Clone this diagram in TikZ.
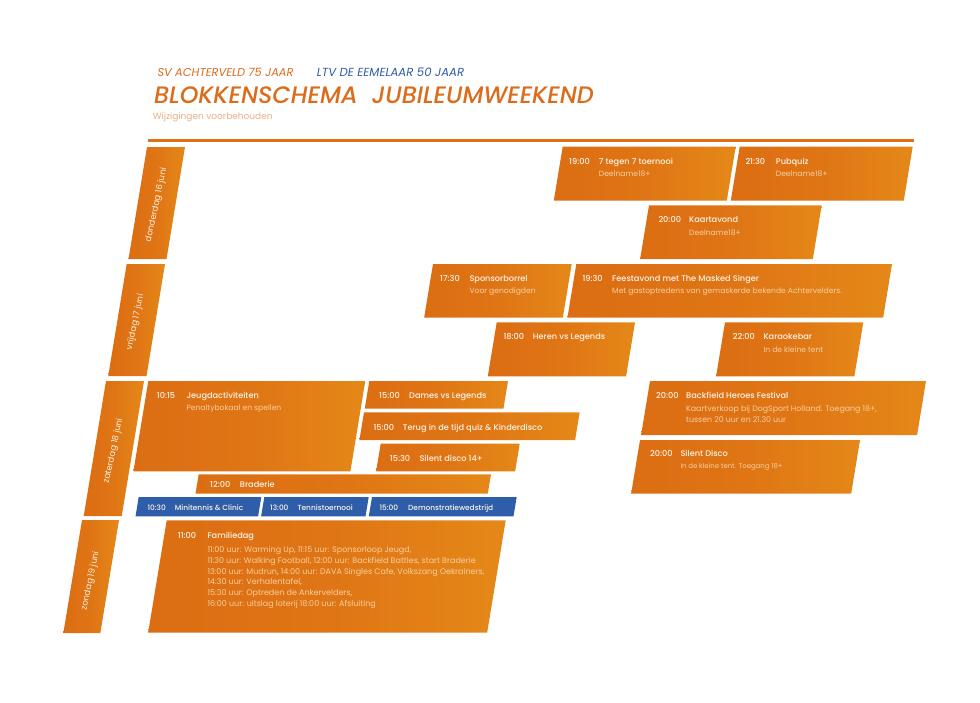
\documentclass[tikz,border=0pt]{standalone}
\usepackage{fontspec}
\setmainfont{Poppins}
\newfontfamily\zwaarder{Poppins Medium}
\definecolor{oranjeL}{HTML}{DC6D13}
\definecolor{oranjeR}{HTML}{E58818}
\definecolor{koporanje}{HTML}{DB6C1C}
\definecolor{kopblauw}{HTML}{2F5CA6}
\definecolor{blokblauw}{HTML}{2E5EA9}
\definecolor{zacht}{HTML}{F7CFA0}
\definecolor{wit}{HTML}{FDF3E6}
\tikzset{
  oranjeblok/.style={left color=oranjeL,right color=oranjeR,middle color=oranjeL!70!oranjeR,shading angle=90},
  tijdtekst/.style={anchor=base west,inner sep=0pt,text=wit,font=\zwaarder\fontsize{8.2}{10}\selectfont},
  subtekst/.style={anchor=base west,inner sep=0pt,text=zacht,font=\fontsize{7.6}{10}\selectfont},
  regeltekst/.style={anchor=base west,inner sep=0pt,text=zacht,font=\fontsize{8}{10}\selectfont},
  blauwtekst/.style={anchor=base west,inner sep=0pt,text=wit,font=\zwaarder\fontsize{7.4}{10}\selectfont},
  dagtekst/.style={inner sep=0pt,text=wit,rotate=78,font=\fontsize{8.5}{10}\selectfont},
}
% blok: x links boven, x rechts boven, y boven, y onder
\newcommand{\blok}[4]{\shade[oranjeblok] (#1,#3) -- (#2,#3) -- ({#2-0.165*(#4-#3)},#4) -- ({#1-0.165*(#4-#3)},#4) -- cycle;}
\newcommand{\blauwblok}[4]{\fill[blokblauw] (#1,#3) -- (#2,#3) -- ({#2-0.165*(#4-#3)},#4) -- ({#1-0.165*(#4-#3)},#4) -- cycle;}
\begin{document}
\begin{tikzpicture}[x=1pt,y=-1pt]
\useasboundingbox (0,0) rectangle (980,702);
% kop
\node[anchor=base west,inner sep=0pt,text=koporanje,font=\fontsize{11.4}{13}\selectfont\itshape] (kopsv) at (157.3,76) {SV ACHTERVELD 75 JAAR};
\node[anchor=base west,inner sep=0pt,text=kopblauw,font=\fontsize{11.7}{13}\selectfont\itshape] (kopltv) at (316.7,76) {LTV DE EEMELAAR 50 JAAR};
\node[anchor=base west,inner sep=0pt,text=koporanje,font=\zwaarder\fontsize{23.8}{26}\selectfont\itshape] (koptitel) at (154,103.3) {BLOKKENSCHEMA\ \ JUBILEUMWEEKEND};
\node[anchor=base west,inner sep=0pt,text=koporanje!55,font=\fontsize{9}{11}\selectfont] (kopwijz) at (152.7,119) {Wijzigingen voorbehouden};
\draw[oranjeL!85!oranjeR,line width=2.5pt] (148,140.5) -- (914,140.5);
% dagen
\blok{147}{185}{147}{259}
\blok{126.7}{165}{264}{376}
\blok{106}{144}{381}{516}
\blok{82}{119}{520}{633}
\node[dagtekst] (dagdo) at (156.5,205) {donderdag 16 juni};
\node[dagtekst] (dagvr) at (135.5,322) {vrijdag 17 juni};
\node[dagtekst] (dagza) at (113.5,451) {zaterdag 18 juni};
\node[dagtekst] (dagzo) at (90.5,581) {zondag 19 juni};
% donderdag
\blok{562.7}{735.7}{146.7}{200.7}
\node[tijdtekst] (t1900) at (569,164) {19:00};
\node[tijdtekst] (toernooi) at (598.7,164) {7 tegen 7 toernooi};
\node[subtekst] (s1900) at (598.7,176.7) {Deelname18+};
\blok{739.7}{912.7}{146.7}{200.7}
\node[tijdtekst] (t2130) at (745.3,164) {21:30};
\node[tijdtekst] (pubquiz) at (775.7,164) {Pubquiz};
\node[subtekst] (s2130) at (775.7,176.7) {Deelname18+};
\blok{649}{821.7}{205.3}{259}
\node[tijdtekst] (t2000k) at (658.3,222.3) {20:00};
\node[tijdtekst] (kaart) at (689,222.3) {Kaartavond};
\node[subtekst] (s2000k) at (689,235.3) {Deelname18+};
% vrijdag
\blok{433}{571.7}{264}{317.7}
\node[tijdtekst] (t1730) at (440,281) {17:30};
\node[tijdtekst] (sponsor) at (469.3,281) {Sponsorborrel};
\node[subtekst] (s1730) at (469.3,293.7) {Voor genodigden};
\blok{576.3}{892}{264}{317.7}
\node[tijdtekst] (t1930) at (582.3,281) {19:30};
\node[tijdtekst] (feest) at (612,281) {Feestavond met The Masked Singer};
\node[subtekst] (s1930) at (612,293.7) {Met gastoptredens van gemaskerde bekende Achtervelders.};
\blok{496.7}{635}{322.3}{376.3}
\node[tijdtekst] (t1800) at (503.3,339.3) {18:00};
\node[tijdtekst] (heren) at (532.7,339.3) {Heren vs Legends};
\blok{725}{863.3}{322.3}{376.3}
\node[tijdtekst] (t2200) at (732.7,339.3) {22:00};
\node[tijdtekst] (karaoke) at (763.3,339.3) {Karaokebar};
\node[subtekst] (s2200) at (763.3,352) {In de kleine tent};
% zaterdag
\blok{148.3}{365.3}{381}{471.3}
\node[tijdtekst] (t1015) at (156.7,398) {10:15};
\node[tijdtekst] (jeugd) at (186.3,398) {Jeugdactiviteiten};
\node[subtekst] (s1015) at (186.3,410.3) {Penaltybokaal en spellen};
\blok{369.3}{508}{381}{408.7}
\node[tijdtekst] (t1500d) at (379,398) {15:00};
\node[tijdtekst] (dames) at (409,398) {Dames vs Legends};
\blok{364}{579.7}{412.3}{440}
\node[tijdtekst] (t1500q) at (373.3,430) {15:00};
\node[tijdtekst] (quiz) at (402.7,430) {Terug in de tijd quiz \& Kinderdisco};
\blok{380.7}{519.7}{443.7}{471.3}
\node[tijdtekst] (t1530) at (389.7,461) {15:30};
\node[tijdtekst] (silent) at (419.3,461) {Silent disco 14+};
\blok{198.7}{491}{474.3}{493.7}
\node[tijdtekst] (t1200) at (210,487.7) {12:00};
\node[tijdtekst] (braderie) at (239.7,487.7) {Braderie};
\blok{650}{926}{381}{435}
\node[tijdtekst] (t2000b) at (656,398) {20:00};
\node[tijdtekst] (backfield) at (686,398) {Backfield Heroes Festival};
\node[regeltekst,font=\fontsize{7.85}{10}\selectfont] (s2000b) at (686,411.7) {Kaartverkoop bij DogSport Holland. Toegang 18+,};
\node[regeltekst,font=\fontsize{7.85}{10}\selectfont] (s2000c) at (686,422.7) {tussen 20 uur en 21.30 uur};
\blok{640}{860}{440}{493.7}
\node[tijdtekst] (t2000s) at (650,456.7) {20:00};
\node[tijdtekst] (disco) at (680.3,456.7) {Silent Disco};
\node[subtekst,font=\fontsize{6.9}{9}\selectfont] (s2000s) at (680.3,468.3) {In de kleine tent. Toegang 18+};
% tennis
\blauwblok{138.7}{261.3}{497}{516.3}
\node[blauwtekst] (t1030) at (147.3,510.3) {10:30};
\node[blauwtekst] (clinic) at (174.7,510.3) {Minitennis \& Clinic};
\blauwblok{264.3}{368.7}{497}{516.3}
\node[blauwtekst] (t1300) at (270,510.3) {13:00};
\node[blauwtekst] (tennis) at (297.3,510.3) {Tennistoernooi};
\blauwblok{372}{516.7}{497}{516.3}
\node[blauwtekst] (t1500w) at (379.3,510.3) {15:00};
\node[blauwtekst] (demo) at (408,510.3) {Demonstratiewedstrijd};
% zondag
\blok{166.7}{505.7}{520.3}{632.7}
\node[tijdtekst] (t1100) at (177.7,538.7) {11:00};
\node[tijdtekst] (familie) at (207.3,538.7) {Familiedag};
\node[regeltekst] (r1) at (207.3,552.3) {11:00 uur: Warming Up, 11:15 uur: Sponsorloop Jeugd,};
\node[regeltekst] (r2) at (207.3,563) {11:30 uur: Walking Football, 12:00 uur: Backfield Battles, start Braderie};
\node[regeltekst] (r3) at (207.3,574) {13:00 uur: Mudrun, 14:00 uur: DAVA Singles Cafe, Volkszang Oekrainers,};
\node[regeltekst] (r4) at (207.3,584.7) {14:30 uur: Verhalentafel,};
\node[regeltekst] (r5) at (207.3,595.7) {15:30 uur: Optreden de Ankervelders,};
\node[regeltekst] (r6) at (207.3,606) {16:00 uur: uitslag loterij 18:00 uur: Afsluiting};
\end{tikzpicture}
\end{document}
